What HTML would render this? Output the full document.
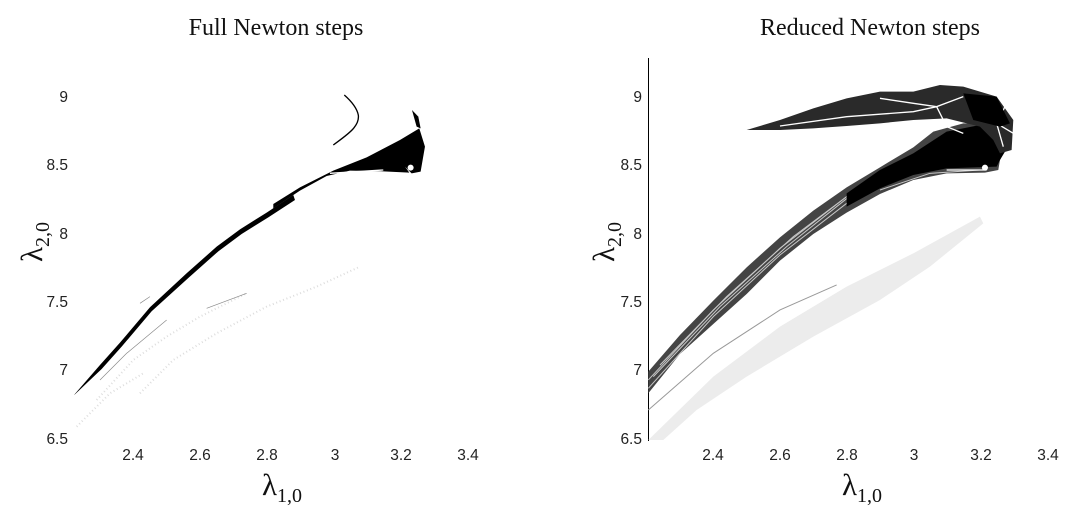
<!DOCTYPE html>
<html><head><meta charset="utf-8"><style>
html,body{margin:0;padding:0;background:#fff;}
svg{display:block}
.t{font-family:"Liberation Sans",sans-serif;font-size:15.5px;fill:#222}
.ti{font-family:"Liberation Serif",serif;font-size:24px;fill:#111}
.ax{font-family:"Liberation Serif",serif;font-size:31px;fill:#111}
.sb{font-size:20px}
</style></head><body>
<svg width="1071" height="506" viewBox="0 0 1071 506" xmlns="http://www.w3.org/2000/svg">
<rect width="1071" height="506" fill="#fff"/>
<text class="ti" x="276" y="35" text-anchor="middle">Full Newton steps</text>
<text class="ti" x="870" y="35" text-anchor="middle">Reduced Newton steps</text>

<!-- LEFT -->
<g class="t" text-anchor="end">
<text x="68" y="102">9</text><text x="68" y="170">8.5</text><text x="68" y="239">8</text>
<text x="68" y="307">7.5</text><text x="68" y="375">7</text><text x="68" y="444">6.5</text>
</g>
<g class="t" text-anchor="middle">
<text x="133" y="460">2.4</text><text x="200" y="460">2.6</text><text x="267" y="460">2.8</text>
<text x="335" y="460">3</text><text x="401" y="460">3.2</text><text x="468" y="460">3.4</text>
</g>
<text class="ax" x="262" y="495">λ<tspan class="sb" dy="7">1,0</tspan></text>
<text class="ax" transform="translate(42,262) rotate(-90)">λ<tspan class="sb" dy="7">2,0</tspan></text>

<g transform="translate(0,60) scale(0.3333)">
<path d="M290,1020 L400,900 L500,830 L600,770 L740,700 M420,1000 L520,900 L650,820 L800,740 L950,680 L1080,620 M230,1100 L330,1000 L430,940" stroke="#ddd" stroke-width="6" fill="none" stroke-dasharray="3 8"/>
<path d="M222,1005 L300,915 L360,848 L450,742 L560,640 L650,560 L720,508 L800,458 L880,405 L885,420 L805,472 L725,522 L655,574 L565,654 L455,754 L365,860 L305,927 L226,1002 Z" fill="#000"/>
<path d="M300,960 L380,880 L500,780" stroke="#888" stroke-width="2" fill="none"/>
<path d="M820,432 L900,382 L1000,332 L1100,292 L1200,240 L1258,205 L1275,260 L1262,335 L1235,340 L1215,320 L1228,338 L1150,334 L1050,332 L980,348 L900,392 L820,445 Z" fill="#000"/>
<path d="M1236,150 L1255,170 L1262,205 L1250,200 Z" fill="#000"/>
<path d="M1000,255 C1040,225 1080,200 1075,165 C1070,140 1050,120 1033,105" stroke="#000" stroke-width="4" fill="none"/>
<path d="M990,340 L1150,330" stroke="#fff" stroke-width="4"/>
<circle cx="1232" cy="323" r="9" fill="#fff"/>
<path d="M420,730 L450,710 M620,745 L740,700" stroke="#888" stroke-width="2"/>
</g>

<!-- RIGHT -->
<line x1="648.5" y1="58" x2="648.5" y2="441" stroke="#000" stroke-width="1"/>
<g class="t" text-anchor="end">
<text x="642" y="102">9</text><text x="642" y="170">8.5</text><text x="642" y="239">8</text>
<text x="642" y="307">7.5</text><text x="642" y="375">7</text><text x="642" y="444">6.5</text>
</g>
<g class="t" text-anchor="middle">
<text x="713" y="460">2.4</text><text x="780" y="460">2.6</text><text x="847" y="460">2.8</text>
<text x="914" y="460">3</text><text x="981" y="460">3.2</text><text x="1048" y="460">3.4</text>
</g>
<text class="ax" x="842" y="495">λ<tspan class="sb" dy="7">1,0</tspan></text>
<text class="ax" transform="translate(614,262) rotate(-90)">λ<tspan class="sb" dy="7">2,0</tspan></text>

<g transform="translate(580,60) scale(0.3333)">
<path d="M205,1140 L400,950 L600,800 L800,680 L1000,580 L1200,470 L1210,490 L1050,620 L900,720 L700,830 L500,950 L350,1050 L250,1140 Z" fill="#ececec"/>
<path d="M205,1050 L400,880 L600,750 L770,675" stroke="#999" stroke-width="3" fill="none"/>
<path d="M205,935 L300,825 L400,722 L500,622 L600,532 L700,452 L800,382 L900,322 L1000,262 L1060,215 L1150,190 L1260,190 L1290,240 L1260,300 L1255,330 L1215,338 L1100,340 L1000,360 L900,402 L800,458 L700,522 L600,602 L500,702 L400,792 L300,882 L205,1000 Z" fill="#444"/>
<g stroke="#fff" stroke-width="3" fill="none" opacity="0.7">
<path d="M205,960 L400,750 L600,565 L800,410 L1000,300"/>
<path d="M205,985 L400,770 L600,585 L800,430 L1000,320"/>
<path d="M220,950 L420,740 L620,560 L820,400"/>
<path d="M240,915 L440,710 L640,530 L840,380"/>
<path d="M900,390 L1050,340 L1200,330"/>
</g>
<path d="M800,440 L900,385 L1000,345 L1100,325 L1250,320 L1260,300 L1290,250 L1290,200 L1200,195 L1100,215 L1000,280 L900,330 L800,400 Z" fill="#000"/>
<path d="M500,210 L600,180 L700,145 L800,115 L900,95 L1000,95 L1080,75 L1150,80 L1250,110 L1300,180 L1295,270 L1260,280 L1240,240 L1200,200 L1100,175 L1000,180 L900,190 L800,198 L700,205 L600,210 Z" fill="#2a2a2a"/>
<g stroke="#fff" stroke-width="4" fill="none">
<path d="M600,198 L800,170 L1000,155 L1070,140"/>
<path d="M900,115 L1000,130 L1070,140 L1150,110"/>
<path d="M1070,140 L1100,200 L1150,220"/>
<path d="M1250,190 L1280,130 M1250,190 L1300,220 M1250,190 L1200,130 M1250,190 L1270,260"/>
</g>
<path d="M1150,100 L1250,110 L1290,190 L1260,200 L1180,180 Z" fill="#000"/>
<circle cx="1215" cy="323" r="9" fill="#fff"/>
<path d="M1100,330 L1220,330" stroke="#fff" stroke-width="4"/>
</g>
</svg>
</body></html>
